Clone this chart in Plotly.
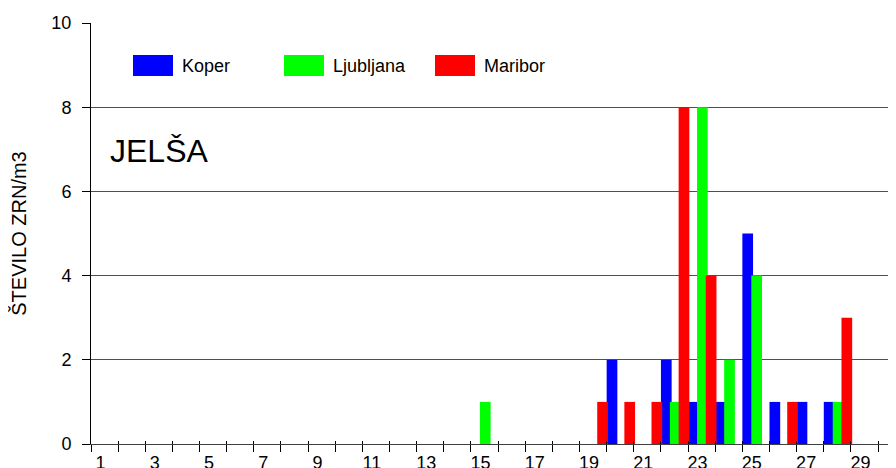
import plotly.graph_objects as go

days = list(range(1, 31))
koper = [0]*19 + [2, 0, 2, 1, 1, 5, 1, 1, 1, 0, 0]
ljubljana = [0]*14 + [1, 0, 0, 0, 0, 0, 0, 1, 8, 2, 4, 0, 0, 1, 0, 0]
maribor = [0]*18 + [1, 1, 1, 8, 4, 0, 0, 1, 0, 3, 0, 0]
series_names = ["Koper", "Ljubljana", "Maribor"]
series_colors = ["#0000FF", "#00FF00", "#FF0000"]
tick_labels = [str(d) for d in range(1, 30, 2)]
y_ticks = [0, 2, 4, 6, 8, 10]

FONT = "Arial, Liberation Sans, sans-serif"
OFF = 8  # page body margin
W, H = 896 - OFF, 468 - OFF
L, R, T, B = 91 - OFF, 0, 23 - OFF, 24
pw, ph = W - L - R, H - T - B

def px(x):
    return (x - OFF - L) / pw

def py(y):
    return (OFF + H - B - y) / ph

fig = go.Figure()
offsets = [-0.5, -0.17, 0.152]
for name, vals, col, off in zip(series_names, [koper, ljubljana, maribor], series_colors, offsets):
    fig.add_trace(go.Bar(x=days, y=vals, name=name, marker=dict(color=col, line=dict(width=0)),
                         width=0.394, offset=off, showlegend=False))

xr = [0.5, 0.5 + pw / 27.14]
fig.update_layout(
    width=W, height=H, margin=dict(l=L, r=R, t=T, b=B, autoexpand=False),
    paper_bgcolor="white", plot_bgcolor="white",
    barmode="overlay",
    font=dict(family=FONT, size=18, color="black"),
    xaxis=dict(range=xr, tickmode="array", tickvals=[d - 0.15 for d in range(1, 30, 2)],
               ticktext=tick_labels, ticks="", showgrid=False, zeroline=False,
               showline=True, linecolor="#404040", linewidth=1, automargin=False,
               tickfont=dict(size=18), ticklabelstandoff=2),
    xaxis2=dict(range=xr, overlaying="x", anchor="y", side="bottom", tickmode="array",
                tickvals=[d + 0.5 for d in range(0, 31)], showticklabels=False,
                ticks="outside", ticklen=7, tickcolor="black", tickwidth=1, automargin=False,
                showgrid=False, zeroline=False, showline=False),
    xaxis3=dict(range=xr, overlaying="x", anchor="y", side="bottom", tickmode="array",
                tickvals=[d + 0.5 for d in range(0, 31)], showticklabels=False,
                ticks="inside", ticklen=3, tickcolor="black", tickwidth=1, automargin=False,
                showgrid=False, zeroline=False, showline=False),
    yaxis=dict(range=[0, 10], tickmode="array", tickvals=y_ticks, ticks="outside", ticklen=8,
               tickcolor="black", showgrid=True, gridcolor="#505050", gridwidth=1,
               zeroline=False, showline=True, linecolor="black", linewidth=1, automargin=False,
               tickfont=dict(size=18), ticklabelstandoff=7,
               title=dict(text="ŠTEVILO ZRN/m3", font=dict(size=20), standoff=22)),
)
fig.add_trace(go.Scatter(x=[None], y=[None], xaxis="x2", yaxis="y", showlegend=False, hoverinfo="skip"))
fig.add_trace(go.Scatter(x=[None], y=[None], xaxis="x3", yaxis="y", showlegend=False, hoverinfo="skip"))

sw_x = [133, 284, 435]
for name, col, x0 in zip(series_names, series_colors, sw_x):
    fig.add_shape(type="rect", xref="paper", yref="paper", x0=px(x0), x1=px(x0 + 40),
                  y0=py(76), y1=py(55), fillcolor=col, line=dict(width=0))
    fig.add_annotation(xref="paper", yref="paper", x=px(x0 + 47), y=py(65.5), text=name,
                       showarrow=False, xanchor="left", yanchor="middle",
                       font=dict(family=FONT, size=18, color="black"))

fig.add_annotation(xref="paper", yref="paper", x=px(108), y=py(151), text="JELŠA",
                   showarrow=False, xanchor="left", yanchor="middle",
                   font=dict(family=FONT, size=32, color="black"))

fig.write_html("out.html")
